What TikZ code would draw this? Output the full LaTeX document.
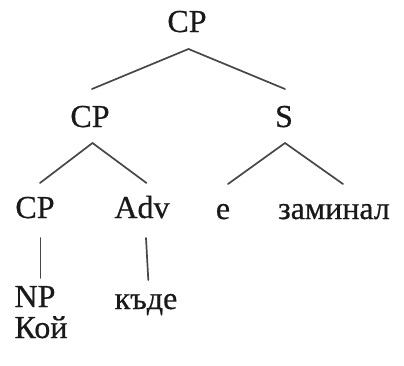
\documentclass[tikz,border=0pt]{standalone}
\usepackage{fontspec}
\setmainfont{Liberation Serif}[FakeBold=0.6]
\usetikzlibrary{calc}
\begin{document}
\begin{tikzpicture}[x=1pt,y=-1pt,
  lbl/.style={anchor=base,inner sep=0pt,text=black!90,font=\fontsize{32}{38}\selectfont},
  branch/.style={draw=black!72,line width=1.7pt,line cap=round}]
\useasboundingbox (0,0) rectangle (404,365);
% labels of the tree
\node[lbl] (cp1) at (187,32) {CP};
\node[lbl] (cp2) at (90,127) {CP};
\node[lbl] (s)   at (284,127) {S};
\node[lbl] (cp3) at (35,218) {CP};
\node[lbl] (adv) at (142,218) {Adv};
\node[lbl] (e)   at (223,219) {е};
\node[lbl] (zam) at (334,219) {заминал};
\node[lbl] (np)  at (35,307) {NP};
\node[lbl] (kde) at (146,309) {къде};
\node[lbl] (koi) at (41,338) {Кой};
% branches
\draw[branch] ($(cp1.base)+(1.5,17)$) -- ($(cp2.base)+(2,-38)$);
\draw[branch] ($(cp1.base)+(1.5,17)$) -- ($(s.base)+(1,-38)$);
\draw[branch] ($(cp2.base)+(2.5,16)$) -- ($(cp3.base)+(5,-35)$);
\draw[branch] ($(cp2.base)+(2.5,16)$) -- ($(adv.base)+(4.5,-35)$);
\draw[branch] ($(s.base)+(1,16)$) -- ($(e.base)+(5,-35)$);
\draw[branch] ($(s.base)+(1,16)$) -- ($(zam.base)+(9,-35)$);
\draw[branch] ($(cp3.base)+(5.5,20)$) -- ($(np.base)+(5.5,-29)$);
\draw[branch] ($(adv.base)+(4,20)$) -- ($(kde.base)+(2.3,-29)$);
\end{tikzpicture}
\end{document}
